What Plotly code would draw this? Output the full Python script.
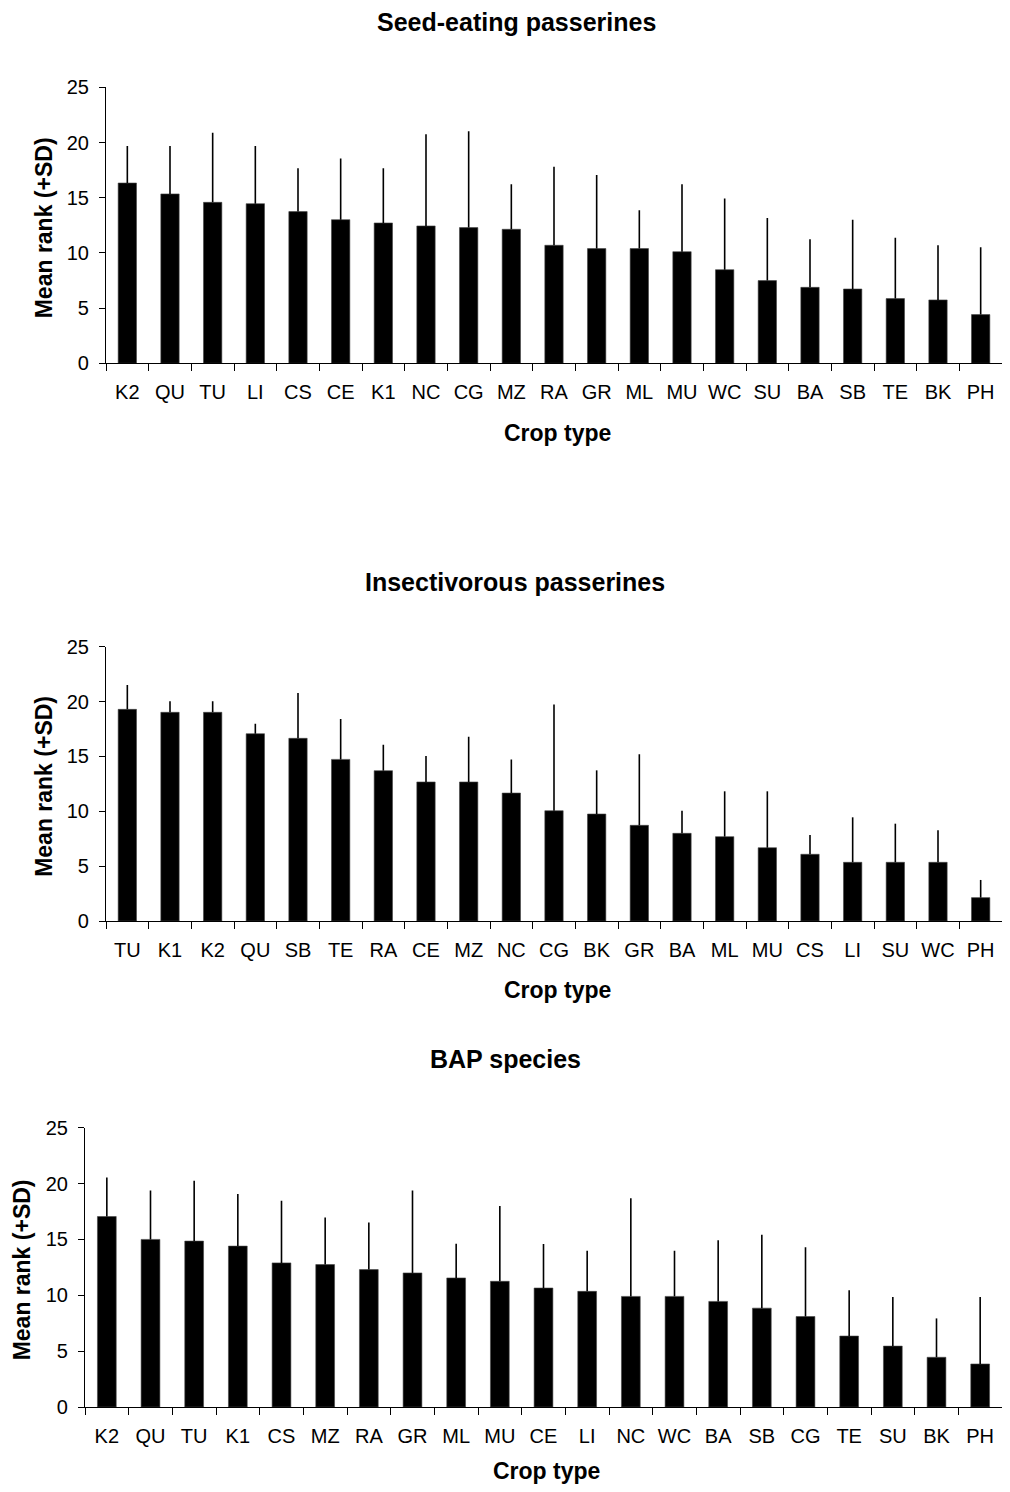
import plotly.graph_objects as go

PAGE_W, PAGE_H = 1010, 1492
BODY = 8  # default browser body margin
W, H = PAGE_W - 2 * BODY, PAGE_H - 2 * BODY

# ---------------- data ----------------
seed_crops = ["K2", "QU", "TU", "LI", "CS", "CE", "K1", "NC", "CG", "MZ", "RA",
              "GR", "ML", "MU", "WC", "SU", "BA", "SB", "TE", "BK", "PH"]
seed_mean = [16.33, 15.34, 14.58, 14.46, 13.74, 13.01, 12.71, 12.44, 12.29, 12.14, 10.69,
             10.39, 10.39, 10.11, 8.48, 7.49, 6.88, 6.73, 5.86, 5.74, 4.41]
seed_sd = [3.36, 4.35, 6.31, 5.23, 3.92, 5.53, 4.95, 8.30, 8.72, 4.07, 7.12,
           6.67, 3.47, 6.10, 6.44, 5.67, 4.35, 6.28, 5.52, 4.95, 6.10]

insect_crops = ["TU", "K1", "K2", "QU", "SB", "TE", "RA", "CE", "MZ", "NC", "CG",
                "BK", "GR", "BA", "ML", "MU", "CS", "LI", "SU", "WC", "PH"]
insect_mean = [19.29, 19.02, 19.02, 17.07, 16.65, 14.73, 13.70, 12.67, 12.67, 11.66, 10.05,
               9.75, 8.72, 7.99, 7.69, 6.68, 6.08, 5.35, 5.35, 5.35, 2.13]
insect_sd = [2.22, 1.00, 1.00, 0.91, 4.13, 3.68, 2.37, 2.37, 4.13, 3.07, 9.69,
             3.98, 6.47, 2.06, 4.13, 5.14, 1.76, 4.10, 3.52, 2.91, 1.61]

bap_crops = ["K2", "QU", "TU", "K1", "CS", "MZ", "RA", "GR", "ML", "MU", "CE",
             "LI", "NC", "WC", "BA", "SB", "CG", "TE", "SU", "BK", "PH"]
bap_mean = [17.05, 15.0, 14.85, 14.4, 12.9, 12.75, 12.3, 12.0, 11.55, 11.25, 10.65,
            10.35, 9.9, 9.9, 9.45, 8.85, 8.1, 6.35, 5.45, 4.45, 3.85]
bap_sd = [3.5, 4.37, 5.41, 4.67, 5.57, 4.22, 4.22, 7.37, 3.07, 6.75, 3.94,
          3.64, 8.78, 4.09, 5.47, 6.56, 6.19, 4.10, 4.40, 3.48, 6.0]

titles = ["Seed-eating passerines", "Insectivorous passerines", "BAP species"]
y_title = "Mean rank (+SD)"
x_title = "Crop type"
y_ticks = [0, 5, 10, 15, 20, 25]

FONT = "Liberation Sans, Arial, sans-serif"


def px(x):
    # page pixel -> paper fraction
    return (x - BODY) / W


def py(y):
    return 1 - (y - BODY) / H


# panel geometry in page pixels
panels = [
    dict(crops=seed_crops, mean=seed_mean, sd=seed_sd, xl=106, xr=1008, yt=87.3, yb=363.3,
         title_y=22, title_x=516, ytitle_x=44, xtitle_y=433),
    dict(crops=insect_crops, mean=insect_mean, sd=insect_sd, xl=106, xr=1008, yt=646.7, yb=921,
         title_y=582, title_x=515, ytitle_x=44, xtitle_y=990),
    dict(crops=bap_crops, mean=bap_mean, sd=bap_sd, xl=85, xr=1008, yt=1127.7, yb=1407,
         title_y=1059, title_x=505, ytitle_x=22, xtitle_y=1471),
]

fig = go.Figure()
annotations = []
layout_axes = {}

for i, p in enumerate(panels, start=1):
    xa = "x" if i == 1 else f"x{i}"
    ya = "y" if i == 1 else f"y{i}"
    fig.add_trace(go.Bar(
        x=p["crops"], y=p["mean"], xaxis=xa, yaxis=ya,
        marker=dict(color="black", line=dict(width=0.6, color="#444444")),
        width=0.43,
        error_y=dict(type="data", symmetric=False, array=p["sd"],
                     arrayminus=[0] * len(p["sd"]), color="black",
                     thickness=1.6, width=0),
        showlegend=False,
    ))
    xkey = "xaxis" if i == 1 else f"xaxis{i}"
    ykey = "yaxis" if i == 1 else f"yaxis{i}"
    layout_axes[xkey] = dict(
        domain=[px(p["xl"]), min(1.0, px(p["xr"]))], anchor=ya,
        type="category", range=[-0.5, 20.5],
        showline=True, linecolor="black", linewidth=1.2,
        ticks="outside", tickson="boundaries", ticklen=7, tickwidth=1.2,
        tickcolor="black", showgrid=False, zeroline=False,
        tickfont=dict(family=FONT, size=20, color="black"),
        ticklabelstandoff=11,
        fixedrange=True,
    )
    layout_axes[ykey] = dict(
        domain=[py(p["yb"]), py(p["yt"])], anchor=xa,
        range=[0, 25], tickvals=y_ticks,
        showline=True, linecolor="black", linewidth=1.2,
        ticks="outside", ticklen=6, tickwidth=1.2, tickcolor="black",
        showgrid=False, zeroline=False,
        tickfont=dict(family=FONT, size=20, color="black"),
        ticklabelstandoff=6,
        fixedrange=True,
    )
    annotations.append(dict(
        text=f"<b>{titles[i-1]}</b>", x=px(p["title_x"]), y=py(p["title_y"]),
        xref="paper", yref="paper", xanchor="center", yanchor="middle",
        showarrow=False, font=dict(family=FONT, size=25, color="black")))
    annotations.append(dict(
        text=f"<b>{x_title}</b>", x=px((p["xl"] + p["xr"]) / 2), y=py(p["xtitle_y"]),
        xref="paper", yref="paper", xanchor="center", yanchor="middle",
        showarrow=False, font=dict(family=FONT, size=23, color="black")))
    annotations.append(dict(
        text=f"<b>{y_title}</b>", x=px(p["ytitle_x"]), y=py((p["yt"] + p["yb"]) / 2 + 3),
        xref="paper", yref="paper", xanchor="center", yanchor="middle",
        textangle=-90, showarrow=False,
        font=dict(family=FONT, size=23, color="black")))

fig.update_layout(
    width=W, height=H,
    margin=dict(l=0, r=0, t=0, b=0, autoexpand=False),
    paper_bgcolor="white", plot_bgcolor="white",
    bargap=0.57,
    annotations=annotations,
    font=dict(family=FONT, color="black"),
    **layout_axes,
)

fig.write_html("out.html", config={"displayModeBar": False})
